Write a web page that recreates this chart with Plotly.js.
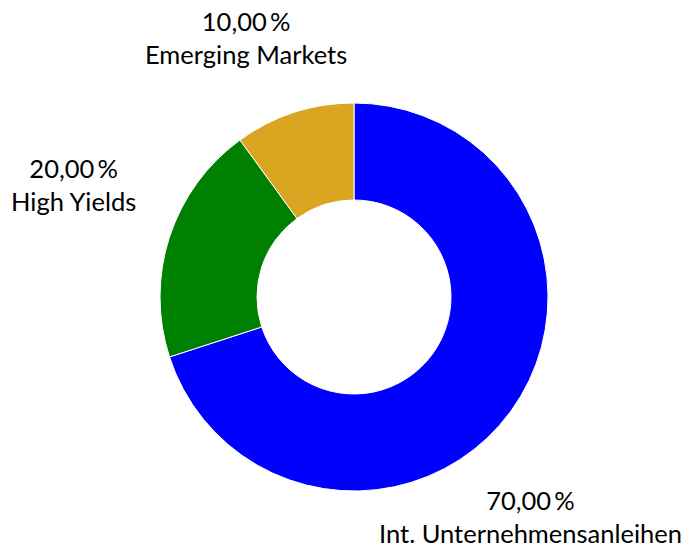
<!DOCTYPE html>
<html>
<head>
<meta charset="utf-8">
<script src="https://cdn.plot.ly/plotly-3.0.1.min.js"></script>
<style>html,body{margin:0;padding:0;background:#fff;}#chart{width:691px;height:548px;}</style>
</head>
<body>
<div id="chart"></div>
<script>
var categories = ["Int. Unternehmensanleihen", "High Yields", "Emerging Markets"];
var values = [70, 20, 10];
var colors = ["#0000FF", "#008000", "#DAA520"];

// label block centers in pixels (layout only)
var labelPos = [[530, 516], [73, 184], [246, 37]];

var W = 691, H = 548;
var cx = 354, cy = 297, R = 194;

function fmt(v) { return v.toFixed(2).replace(".", ",") + "\u2009%"; }

var annotations = categories.map(function (c, i) {
  return {
    xref: "paper", yref: "paper",
    x: labelPos[i][0] / W, y: 1 - labelPos[i][1] / H,
    xanchor: "center", yanchor: "middle", align: "center",
    showarrow: false,
    text: fmt(values[i]) + "<br>" + c,
    font: {family: "Lato, sans-serif", size: 25.5, color: "#000"}
  };
});

var trace = {
  type: "pie",
  labels: categories,
  values: values,
  marker: {colors: colors, line: {color: "#ffffff", width: 1}},
  hole: 0.5,
  sort: false,
  direction: "clockwise",
  rotation: 0,
  textinfo: "none",
  hoverinfo: "skip",
  domain: {x: [(cx - R) / W, (cx + R) / W], y: [1 - (cy + R) / H, 1 - (cy - R) / H]}
};

Plotly.newPlot("chart", [trace], {
  width: W, height: H,
  margin: {l: 0, r: 0, t: 0, b: 0},
  showlegend: false,
  paper_bgcolor: "#fff",
  annotations: annotations,
  font: {family: "Lato, sans-serif"}
}, {displayModeBar: false, staticPlot: true});
</script>
</body>
</html>
